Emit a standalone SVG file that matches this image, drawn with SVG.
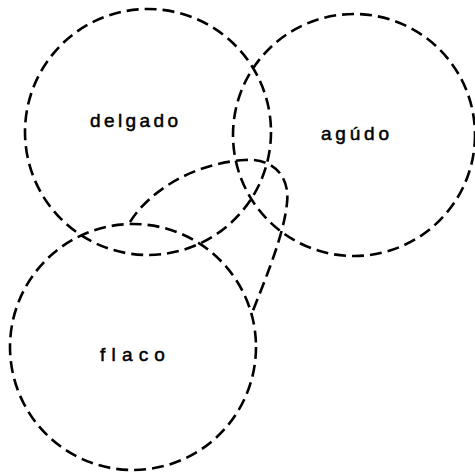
<svg xmlns="http://www.w3.org/2000/svg" width="475" height="474" viewBox="0 0 475 474">
<style>
.c{fill:none;stroke:#000;stroke-width:2.6;stroke-dasharray:12 6;}
.t{font-family:"Liberation Sans","DejaVu Sans",sans-serif;font-size:19px;fill:#000;stroke:#000;stroke-width:0.5;}
</style>
<rect width="475" height="474" fill="#fff"/>
<g id="delgado"><circle class="c" cx="148" cy="132" r="123"/><text class="t" x="90" y="127" style="letter-spacing:3.4px">delgado</text></g>
<g id="agudo"><circle class="c" cx="354" cy="135" r="121"/><text class="t" x="321" y="140" style="letter-spacing:3.8px">agúdo</text></g>
<g id="flaco"><circle class="c" cx="133" cy="347" r="123"/><text class="t" x="100" y="361" style="letter-spacing:6.2px">flaco</text></g>
<g id="connectors"><path class="c" d="M130,222 C150,190 195,163 245,160 C275,158 290,178 287,203 C284,235 265,280 252,313"/></g>
</svg>
